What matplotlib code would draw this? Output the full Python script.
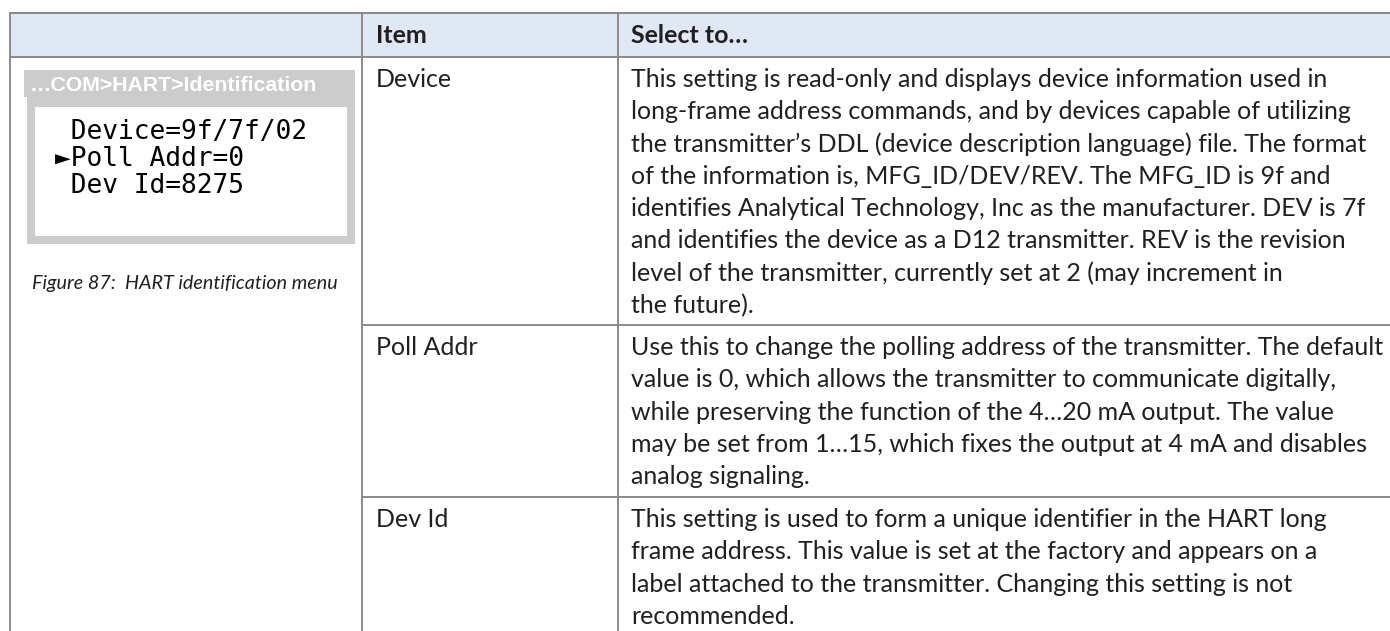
import matplotlib
matplotlib.use("Agg")
import matplotlib.pyplot as plt
from matplotlib.patches import Rectangle

# table content
col_headers = ["Item", "Select to…"]
items = ["Device", "Poll Addr", "Dev Id"]
descriptions = [
    ["This setting is read-only and displays device information used in",
     "long-frame address commands, and by devices capable of utilizing",
     "the transmitter’s DDL (device description language) file. The format",
     "of the information is, MFG_ID/DEV/REV. The MFG_ID is 9f and",
     "identifies Analytical Technology, Inc as the manufacturer. DEV is 7f",
     "and identifies the device as a D12 transmitter. REV is the revision",
     "level of the transmitter, currently set at 2 (may increment in",
     "the future)."],
    ["Use this to change the polling address of the transmitter. The default",
     "value is 0, which allows the transmitter to communicate digitally,",
     "while preserving the function of the 4…20 mA output. The value",
     "may be set from 1…15, which fixes the output at 4 mA and disables",
     "analog signaling."],
    ["This setting is used to form a unique identifier in the HART long",
     "frame address. This value is set at the factory and appears on a",
     "label attached to the transmitter. Changing this setting is not",
     "recommended."],
]
lcd_title = "…COM>HART>Identification"
lcd_lines = [" Device=9f/7f/02", "►Poll Addr=0", " Dev Id=8275"]
caption = "Figure 87:  HART identification menu"

W, H = 1390, 631
txt_col = "#231f20"
line_col = "#8a8a8a"
body_font = "Lato"

fig = plt.figure(figsize=(W / 100, H / 100), dpi=100)
ax = fig.add_axes([0, 0, 1, 1])
ax.set_xlim(0, W)
ax.set_ylim(H, 0)
ax.axis("off")
fig.canvas.draw()
rend = fig.canvas.get_renderer()


def fit_size(s, target_px, **kw):
    # scale font size so the string spans target_px
    t = ax.text(0, 0, s, fontsize=20, **kw)
    w = t.get_window_extent(rend).width
    t.remove()
    return 20 * target_px / w


body_size = fit_size(descriptions[1][0], 755, family=body_font)

# table grid
x_left, x_c1, x_c2 = 10, 362, 618
y_top, y_head = 13, 57
row_bounds = [57, 325, 497, H + 5]
ax.add_patch(Rectangle((x_left, y_top), W - x_left, y_head - y_top,
                       facecolor="#dfe8f4", edgecolor="none"))
lw = 1.4
ax.plot([x_left, W], [y_top, y_top], color=line_col, lw=lw)
ax.plot([x_left, W], [y_head, y_head], color=line_col, lw=lw)
ax.plot([x_left, x_left], [y_top, H], color=line_col, lw=lw)
ax.plot([x_c1, x_c1], [y_top, H], color=line_col, lw=lw)
ax.plot([x_c2, x_c2], [y_top, H], color=line_col, lw=lw)
for yb in row_bounds[1:-1]:
    ax.plot([x_c1, W], [yb, yb], color=line_col, lw=lw)

# header
ax.text(376, 43, col_headers[0], fontsize=body_size, family=body_font,
        weight="bold", color=txt_col, va="baseline")
ax.text(631, 43, col_headers[1], fontsize=body_size, family=body_font,
        weight="bold", color=txt_col, va="baseline")

# rows
line_gap = 32.3
for i, (item, desc) in enumerate(zip(items, descriptions)):
    base = row_bounds[i] + 30
    ax.text(376, base, item, fontsize=body_size, family=body_font,
            color=txt_col, va="baseline")
    for j, ln in enumerate(desc):
        ax.text(631, base + j * line_gap, ln, fontsize=body_size,
                family=body_font, color=txt_col, va="baseline")

# LCD screen picture
ax.add_patch(Rectangle((24, 70), 331, 27, facecolor="#cccccc", edgecolor="none"))
t_size = fit_size(lcd_title, 287, family="Liberation Sans", weight="bold")
ax.text(30, 91, lcd_title, fontsize=t_size, family="Liberation Sans",
        weight="bold", color="white", va="baseline")
ax.add_patch(Rectangle((27, 97), 328, 147, facecolor="#cccccc", edgecolor="none"))
ax.add_patch(Rectangle((35, 107), 312, 129, facecolor="white", edgecolor="none"))
mono = ["DejaVu Sans Mono", "DejaVu Sans"]
m_size = fit_size("Device=9f/7f/02", 238, family=mono)
for k, ln in enumerate(lcd_lines):
    ax.text(55, 139 + k * 27, ln, fontsize=m_size, family=mono,
            color="black", va="baseline")

c_size = fit_size(caption, 306, family=body_font, style="italic")
ax.text(185, 289, caption, fontsize=c_size, family=body_font, style="italic",
        color=txt_col, ha="center", va="baseline")

fig.savefig("out.png", dpi=100)
